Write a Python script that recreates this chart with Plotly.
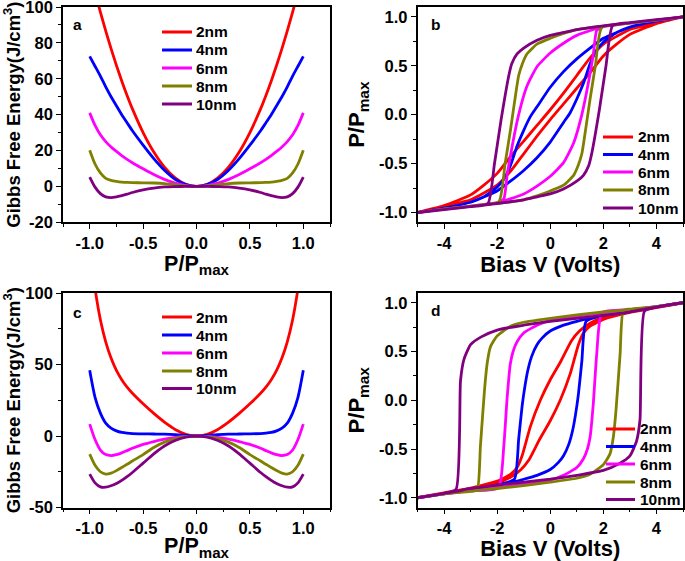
import plotly.graph_objects as go

# ---------------- data ----------------
thickness = ["2nm", "4nm", "6nm", "8nm", "10nm"]
colors = ["#FF0000", "#0000FF", "#FF00FF", "#808000", "#800080"]

# Gibbs free energy (panels a, c)
P_grid = [-1.0, -0.95, -0.9, -0.85, -0.8, -0.75, -0.7, -0.65, -0.6, -0.5, -0.4, -0.3, -0.2, -0.1, 0.0,
          0.1, 0.2, 0.3, 0.4, 0.5, 0.6, 0.65, 0.7, 0.75, 0.8, 0.85, 0.9, 0.95, 1.0]

Ga_2nm = [120, 108.3, 97.2, 86.7, 76.8, 67.5, 58.8, 50.7, 43.2, 30, 19.2, 10.8, 4.8, 1.2, 0,
          1.2, 4.8, 10.8, 19.2, 30, 43.2, 50.7, 58.8, 67.5, 76.8, 86.7, 97.2, 108.3, 120]
Ga_4nm = [72.5, 67, 61.5, 55.5, 50, 45, 40, 35.5, 31, 23, 15.5, 9.0, 4.0, 1.0, 0,
          1.0, 4.0, 9.0, 15.5, 23, 31, 35.5, 40, 45, 50, 55.5, 61.5, 67, 72.5]
Ga_6nm = [41, 34, 28.8, 25, 22, 19.5, 17.2, 15.1, 13.2, 9.8, 6.6, 3.9, 1.8, 0.5, 0,
          0.5, 1.8, 3.9, 6.6, 9.8, 13.2, 15.1, 17.2, 19.5, 22, 25, 28.8, 34, 41]
Ga_8nm = [20.2, 12.5, 7.5, 4.5, 3.4, 2.8, 2.4, 2.2, 2.1, 2.0, 1.9, 1.6, 1.0, 0.3, 0,
          0.3, 1.0, 1.6, 1.9, 2.0, 2.1, 2.2, 2.4, 2.8, 3.4, 4.5, 7.5, 12.5, 20.2]
Ga_10nm = [5.2, -0.4, -4.0, -5.8, -6.2, -5.8, -5.1, -4.3, -3.4, -1.9, -0.9, -0.3, -0.1, 0, 0,
           0, -0.1, -0.3, -0.9, -1.9, -3.4, -4.3, -5.1, -5.8, -6.2, -5.8, -4.0, -0.4, 5.2]

Gc_2nm = [130, 102.9, 81.3, 65.9, 54.5, 45.9, 39.4, 34.2, 29.9, 22.5, 15.8, 9.7, 4.6, 1.2, 0,
          1.2, 4.6, 9.7, 15.8, 22.5, 29.9, 34.2, 39.4, 45.9, 54.5, 65.9, 81.3, 102.9, 130]
Gc_4nm = [45.9, 27, 16, 9, 5.5, 3.6, 2.5, 2.0, 1.7, 1.5, 1.4, 1.3, 1.0, 0.5, 0,
          0.5, 1.0, 1.3, 1.4, 1.5, 1.7, 2.0, 2.5, 3.6, 5.5, 9, 16, 27, 45.9]
Gc_6nm = [8.3, -2.5, -9.8, -13.0, -13.7, -13.1, -11.8, -10.2, -8.6, -5.9, -3.9, -2.2, -0.9, -0.2, 0,
          -0.2, -0.9, -2.2, -3.9, -5.9, -8.6, -10.2, -11.8, -13.1, -13.7, -13.0, -9.8, -2.5, 8.3]
Gc_8nm = [-12.7, -20.5, -25, -26.6, -26, -24.2, -22, -19.8, -17.5, -13, -8, -4.3, -1.8, -0.4, 0,
          -0.4, -1.8, -4.3, -8, -13, -17.5, -19.8, -22, -24.2, -26, -26.6, -25, -20.5, -12.7]
Gc_10nm = [-26.7, -32.8, -35.6, -35.8, -34.8, -33.2, -31, -28.4, -25.5, -19, -12.5, -7, -3.2, -0.8, 0,
           -0.8, -3.2, -7, -12.5, -19, -25.5, -28.4, -31, -33.2, -34.8, -35.8, -35.6, -32.8, -26.7]

# Hysteresis loops (panels b, d): descending branch then ascending branch
b_2nm_dV = [5, 4, 3, 2.5, 2, 1.5, 1, 0.5, 0, -0.5, -1, -1.5, -2, -2.5, -3, -4, -5]
b_2nm_dP = [1.0, 0.94, 0.87, 0.80, 0.72, 0.58, 0.40, 0.22, 0.05, -0.11, -0.27, -0.43, -0.60, -0.72, -0.82, -0.93, -1.0]
b_2nm_aV = [-5, -4, -3, -2.5, -2, -1.5, -1, -0.5, 0, 0.5, 1, 1.5, 2, 2.5, 3, 4, 5]
b_2nm_aP = [-1.0, -0.94, -0.87, -0.80, -0.72, -0.58, -0.40, -0.22, -0.05, 0.11, 0.27, 0.43, 0.60, 0.72, 0.82, 0.93, 1.0]

b_4nm_dV = [5, 4, 3, 2.5, 2, 1.5, 1, 0.5, 0, -0.5, -0.75, -1, -1.25, -1.5, -1.75, -2, -2.5, -3, -4, -5]
b_4nm_dP = [1, 0.955, 0.895, 0.84, 0.78, 0.68, 0.57, 0.44, 0.28, 0.08, -0.02, -0.16, -0.32, -0.52, -0.66, -0.74, -0.84, -0.895, -0.955, -1]
b_4nm_aV = [-5, -4, -3, -2.5, -2, -1.5, -1, -0.5, 0, 0.5, 0.75, 1, 1.25, 1.5, 1.75, 2, 2.5, 3, 4, 5]
b_4nm_aP = [-1, -0.955, -0.895, -0.84, -0.78, -0.68, -0.57, -0.44, -0.28, -0.08, 0.02, 0.16, 0.32, 0.52, 0.66, 0.74, 0.84, 0.895, 0.955, 1]

b_6nm_dV = [5, 4, 3, 2, 1.62, 1, 0.5, 0, -0.5, -0.88, -1.19, -1.44, -1.62, -1.75, -2, -3, -4, -5]
b_6nm_dP = [1, 0.965, 0.935, 0.90, 0.87, 0.81, 0.73, 0.63, 0.49, 0.29, 0.0, -0.33, -0.61, -0.86, -0.90, -0.935, -0.965, -1]
b_6nm_aV = [-5, -4, -3, -2, -1.62, -1, -0.5, 0, 0.5, 0.88, 1.19, 1.44, 1.62, 1.75, 2, 3, 4, 5]
b_6nm_aP = [-1, -0.965, -0.935, -0.90, -0.87, -0.81, -0.73, -0.63, -0.49, -0.29, 0.0, 0.33, 0.61, 0.86, 0.90, 0.935, 0.965, 1]

b_8nm_dV = [5, 4, 3, 2, 1.5, 1, 0.5, 0, -0.5, -0.88, -1.05, -1.19, -1.35, -1.5, -1.7, -1.94, -3, -4, -5]
b_8nm_dP = [1, 0.965, 0.935, 0.905, 0.89, 0.87, 0.83, 0.78, 0.72, 0.62, 0.52, 0.40, 0.12, -0.16, -0.50, -0.89, -0.935, -0.965, -1]
b_8nm_aV = [-5, -4, -3, -2, -1.5, -1, -0.5, 0, 0.5, 0.88, 1.05, 1.19, 1.35, 1.5, 1.7, 1.94, 3, 4, 5]
b_8nm_aP = [-1, -0.965, -0.935, -0.905, -0.89, -0.87, -0.83, -0.78, -0.72, -0.62, -0.52, -0.40, -0.12, 0.16, 0.50, 0.89, 0.935, 0.965, 1]

b_10nm_dV = [5, 4, 3, 2.35, 1.5, 1, 0.5, 0, -0.5, -1, -1.25, -1.45, -1.56, -1.85, -2.1, -2.35, -3, -4, -5]
b_10nm_dP = [1, 0.97, 0.94, 0.92, 0.89, 0.87, 0.84, 0.81, 0.76, 0.68, 0.62, 0.52, 0.40, -0.05, -0.5, -0.91, -0.94, -0.97, -1]
b_10nm_aV = [-5, -4, -3, -2.35, -1.5, -1, -0.5, 0, 0.5, 1, 1.25, 1.45, 1.56, 1.85, 2.1, 2.35, 3, 4, 5]
b_10nm_aP = [-1, -0.97, -0.94, -0.92, -0.89, -0.87, -0.84, -0.81, -0.76, -0.68, -0.62, -0.52, -0.40, 0.05, 0.5, 0.91, 0.94, 0.97, 1]

d_2nm_dV = [5, 4, 3, 2, 1.5, 1.1, 0.8, 0.4, 0, -0.375, -0.75, -1.06, -1.25, -1.5, -2, -3, -4, -5]
d_2nm_dP = [1, 0.955, 0.91, 0.85, 0.79, 0.71, 0.61, 0.40, 0.21, 0.0, -0.27, -0.57, -0.69, -0.76, -0.83, -0.90, -0.95, -1]
d_2nm_aV = [-5, -4, -3, -2, -1.5, -1.1, -0.8, -0.4, 0, 0.375, 0.75, 1.06, 1.25, 1.5, 2, 3, 4, 5]
d_2nm_aP = [-1, -0.955, -0.91, -0.85, -0.79, -0.71, -0.61, -0.40, -0.21, 0.0, 0.27, 0.57, 0.69, 0.76, 0.83, 0.90, 0.95, 1]

d_4nm_dV = [5, 4, 3, 2, 1.35, 1, 0.5, 0, -0.3, -0.5, -0.7, -0.85, -0.95, -1.06, -1.19, -1.35, -2, -3, -4, -5]
d_4nm_dP = [1, 0.96, 0.92, 0.87, 0.835, 0.81, 0.77, 0.71, 0.64, 0.57, 0.45, 0.30, 0.15, -0.06, -0.40, -0.81, -0.87, -0.92, -0.96, -1]
d_4nm_aV = [-5, -4, -3, -2, -1.35, -1, -0.5, 0, 0.3, 0.5, 0.7, 0.85, 0.95, 1.06, 1.19, 1.35, 2, 3, 4, 5]
d_4nm_aP = [-1, -0.96, -0.92, -0.87, -0.835, -0.81, -0.77, -0.71, -0.64, -0.57, -0.45, -0.30, -0.15, 0.06, 0.40, 0.81, 0.87, 0.92, 0.96, 1]

d_6nm_dV = [5, 4, 3, 2, 1.5, 1, 0.5, 0, -0.5, -1, -1.25, -1.4, -1.5, -1.62, -1.75, -1.95, -3, -4, -5]
d_6nm_dP = [1, 0.96, 0.93, 0.895, 0.88, 0.86, 0.84, 0.82, 0.77, 0.69, 0.60, 0.50, 0.38, 0.04, -0.47, -0.90, -0.93, -0.96, -1]
d_6nm_aV = [-5, -4, -3, -2, -1.5, -1, -0.5, 0, 0.5, 1, 1.25, 1.4, 1.5, 1.62, 1.75, 1.95, 3, 4, 5]
d_6nm_aP = [-1, -0.96, -0.93, -0.895, -0.88, -0.86, -0.84, -0.82, -0.77, -0.69, -0.60, -0.50, -0.38, -0.04, 0.47, 0.90, 0.93, 0.96, 1]

d_8nm_dV = [5, 4, 3, 2.75, 2, 1, 0, -1, -1.5, -2, -2.25, -2.375, -2.475, -2.63, -2.75, -3, -4, -5]
d_8nm_dP = [1, 0.96, 0.935, 0.925, 0.905, 0.875, 0.84, 0.80, 0.76, 0.66, 0.55, 0.38, 0.11, -0.47, -0.92, -0.935, -0.96, -1]
d_8nm_aV = [-5, -4, -3, -2.75, -2, -1, 0, 1, 1.5, 2, 2.25, 2.375, 2.475, 2.63, 2.75, 3, 4, 5]
d_8nm_aP = [-1, -0.96, -0.935, -0.925, -0.905, -0.875, -0.84, -0.80, -0.76, -0.66, -0.55, -0.38, -0.11, 0.47, 0.92, 0.935, 0.96, 1]

d_10nm_dV = [5, 4, 3.55, 3, 2, 1, 0, -1, -2, -2.6, -3, -3.25, -3.38, -3.55, -4, -5]
d_10nm_dP = [1, 0.955, 0.935, 0.905, 0.87, 0.84, 0.81, 0.77, 0.72, 0.65, 0.57, 0.42, 0.20, -0.915, -0.955, -1]
d_10nm_aV = [-5, -4, -3.55, -3, -2, -1, 0, 1, 2, 2.6, 3, 3.25, 3.38, 3.55, 4, 5]
d_10nm_aP = [-1, -0.955, -0.935, -0.905, -0.87, -0.84, -0.81, -0.77, -0.72, -0.65, -0.57, -0.42, -0.20, 0.915, 0.955, 1]

# tick labels
P_ticks = [-1.0, -0.5, 0.0, 0.5, 1.0]
P_ticklabels = ["-1.0", "-0.5", "0.0", "0.5", "1.0"]
Ga_ticks = [-20, 0, 20, 40, 60, 80, 100]
Ga_ticklabels = ["-20", "0", "20", "40", "60", "80", "100"]
Gc_ticks = [-50, 0, 50, 100]
Gc_ticklabels = ["-50", "0", "50", "100"]
V_ticks = [-4, -2, 0, 2, 4]
V_ticklabels = ["-4", "-2", "0", "2", "4"]
panel_labels = ["a", "b", "c", "d"]

# ---------------- figure ----------------
W, H = 685, 561
FONT = "Liberation Sans, Arial, sans-serif"
fig = go.Figure()

Ga = [Ga_2nm, Ga_4nm, Ga_6nm, Ga_8nm, Ga_10nm]
Gc = [Gc_2nm, Gc_4nm, Gc_6nm, Gc_8nm, Gc_10nm]
bloops = [(b_2nm_dV, b_2nm_dP, b_2nm_aV, b_2nm_aP), (b_4nm_dV, b_4nm_dP, b_4nm_aV, b_4nm_aP),
          (b_6nm_dV, b_6nm_dP, b_6nm_aV, b_6nm_aP), (b_8nm_dV, b_8nm_dP, b_8nm_aV, b_8nm_aP),
          (b_10nm_dV, b_10nm_dP, b_10nm_aV, b_10nm_aP)]
dloops = [(d_2nm_dV, d_2nm_dP, d_2nm_aV, d_2nm_aP), (d_4nm_dV, d_4nm_dP, d_4nm_aV, d_4nm_aP),
          (d_6nm_dV, d_6nm_dP, d_6nm_aV, d_6nm_aP), (d_8nm_dV, d_8nm_dP, d_8nm_aV, d_8nm_aP),
          (d_10nm_dV, d_10nm_dP, d_10nm_aV, d_10nm_aP)]

LW = 2.8
for i, name in enumerate(thickness):
    fig.add_trace(go.Scatter(x=P_grid, y=Ga[i], mode="lines", name=name, showlegend=False,
                             line=dict(color=colors[i], width=LW, shape="spline", smoothing=0.7),
                             xaxis="x", yaxis="y"))
for i, name in enumerate(thickness):
    dV, dP, aV, aP = bloops[i]
    fig.add_trace(go.Scatter(x=dV + aV, y=dP + aP, mode="lines", name=name, showlegend=False,
                             line=dict(color=colors[i], width=LW, shape="spline", smoothing=0.5),
                             xaxis="x2", yaxis="y2"))
for i, name in enumerate(thickness):
    fig.add_trace(go.Scatter(x=P_grid, y=Gc[i], mode="lines", name=name, showlegend=False,
                             line=dict(color=colors[i], width=LW, shape="spline", smoothing=0.7),
                             xaxis="x3", yaxis="y3"))
for i, name in enumerate(thickness):
    dV, dP, aV, aP = dloops[i]
    fig.add_trace(go.Scatter(x=dV + aV, y=dP + aP, mode="lines", name=name, showlegend=False,
                             line=dict(color=colors[i], width=LW, shape="spline", smoothing=0.5),
                             xaxis="x4", yaxis="y4"))

tickfont = dict(family=FONT, size=16.5, color="black", weight="bold")
common = dict(showline=True, linecolor="black", linewidth=1.6, mirror=True,
              ticks="outside", ticklen=5, tickwidth=1.4, tickcolor="black", automargin=False,
              ticklabeloverflow="allow",
              showgrid=False, zeroline=False, tickfont=tickfont)
minor_out = lambda d: dict(ticks="outside", ticklen=3, tickwidth=1.2, tickcolor="black", dtick=d, showgrid=False)
minor_in = lambda d: dict(ticks="inside", ticklen=3, tickwidth=1.2, tickcolor="black", dtick=d, showgrid=False)

xdomL = [63 / W, 330 / W]
xdomR = [417.5 / W, 683 / W]
ydomT = [1 - 222.3 / H, 1 - 7 / H]
ydomB = [1 - 507.5 / H, 1 - 293 / H]

Ptitle = dict(text="P/P<sub>max</sub>", font=dict(family=FONT, size=21.5, color="black", weight="bold"), standoff=5)
Vtitle = dict(text="Bias V (Volts)", font=dict(family=FONT, size=22, color="black", weight="bold"), standoff=6)
Gtitle = dict(text="Gibbs Free Energy(J/cm<sup>3</sup>)", font=dict(family=FONT, size=18.5, color="black", weight="bold"), standoff=5)
PYtitle = dict(text="P/P<sub>max</sub>", font=dict(family=FONT, size=22, color="black", weight="bold"), standoff=8)

def axis_cfg(dom, anchor, rng, tv, tt, md, title):
    return dict(domain=dom, anchor=anchor, range=rng, tickmode="array", tickvals=tv, ticktext=tt,
                minor=minor_out(md), title=title, **common)

def over_x(base, anchor, rng, tv, md):
    return dict(overlaying=base, anchor=anchor, side="top", range=rng, tickmode="array", tickvals=tv,
                ticks="inside", ticklen=5, tickwidth=1.4, tickcolor="black", showticklabels=False,
                showgrid=False, zeroline=False, showline=False, automargin=False, minor=minor_in(md))

def over_y(base, anchor, rng, tv, md):
    return dict(overlaying=base, anchor=anchor, side="right", range=rng, tickmode="array", tickvals=tv,
                ticks="inside", ticklen=5, tickwidth=1.4, tickcolor="black", showticklabels=False,
                showgrid=False, zeroline=False, showline=False, automargin=False, minor=minor_in(md))

Prng = [-1.25, 1.25]
Vrng = [-5, 5]
Lrng = [-1.1, 1.1]

fig.update_layout(
    xaxis=axis_cfg(xdomL, "y", Prng, P_ticks, P_ticklabels, 0.25, Ptitle),
    yaxis=axis_cfg(ydomT, "x", [-20, 100], Ga_ticks, Ga_ticklabels, 10, Gtitle),
    xaxis2=axis_cfg(xdomR, "y2", Vrng, V_ticks, V_ticklabels, 1, Vtitle),
    yaxis2=axis_cfg(ydomT, "x2", Lrng, P_ticks, P_ticklabels, 0.25, PYtitle),
    xaxis3=axis_cfg(xdomL, "y3", Prng, P_ticks, P_ticklabels, 0.25, Ptitle),
    yaxis3=axis_cfg(ydomB, "x3", [-50, 100], Gc_ticks, Gc_ticklabels, 25, Gtitle),
    xaxis4=axis_cfg(xdomR, "y4", Vrng, V_ticks, V_ticklabels, 1, Vtitle),
    yaxis4=axis_cfg(ydomB, "x4", Lrng, P_ticks, P_ticklabels, 0.25, PYtitle),
    xaxis5=over_x("x", "y", Prng, P_ticks, 0.25),
    yaxis5=over_y("y", "x", [-20, 100], Ga_ticks, 10),
    xaxis6=over_x("x2", "y2", Vrng, V_ticks, 1),
    yaxis6=over_y("y2", "x2", Lrng, P_ticks, 0.25),
    xaxis7=over_x("x3", "y3", Prng, P_ticks, 0.25),
    yaxis7=over_y("y3", "x3", [-50, 100], Gc_ticks, 25),
    xaxis8=over_x("x4", "y4", Vrng, V_ticks, 1),
    yaxis8=over_y("y4", "x4", Lrng, P_ticks, 0.25),
    width=W, height=H,
    margin=dict(l=0, r=0, t=0, b=0, autoexpand=False),
    paper_bgcolor="white", plot_bgcolor="white",
    showlegend=False,
)

# manual legends (line swatch + label) for each panel, in pixel layout
legend_boxes = [(162, 192, 194, [32, 50, 68, 86, 104]),
                (603, 633, 636, [137, 154.5, 172, 190, 208]),
                (162, 192, 194, [317, 335, 353, 371, 388.5]),
                (606, 635, 638, [429, 446.5, 464, 482, 499.5])]
legfont = dict(family=FONT, size=15.5, color="black", weight="bold")
for (lx0, lx1, tx, rows) in legend_boxes:
    for i, name in enumerate(thickness):
        yy = 1 - rows[i] / H
        fig.add_shape(type="line", xref="paper", yref="paper", x0=lx0 / W, x1=lx1 / W, y0=yy, y1=yy,
                      line=dict(color=colors[i], width=3))
        fig.add_annotation(text=name, xref="paper", yref="paper", x=tx / W, y=yy, showarrow=False,
                           xanchor="left", yanchor="middle", font=legfont)

label_px = [(77, 25), (435, 25), (77, 312), (435, 310)]
for lab, (px, py) in zip(panel_labels, label_px):
    fig.add_annotation(text=lab, xref="paper", yref="paper", x=px / W, y=1 - py / H, showarrow=False,
                       xanchor="center", yanchor="middle",
                       font=dict(family=FONT, size=15.5, color="black", weight="bold"))

fig.write_html("out.html", config={"displayModeBar": False},
               post_script="document.body.style.margin='0';document.body.style.padding='0';")
